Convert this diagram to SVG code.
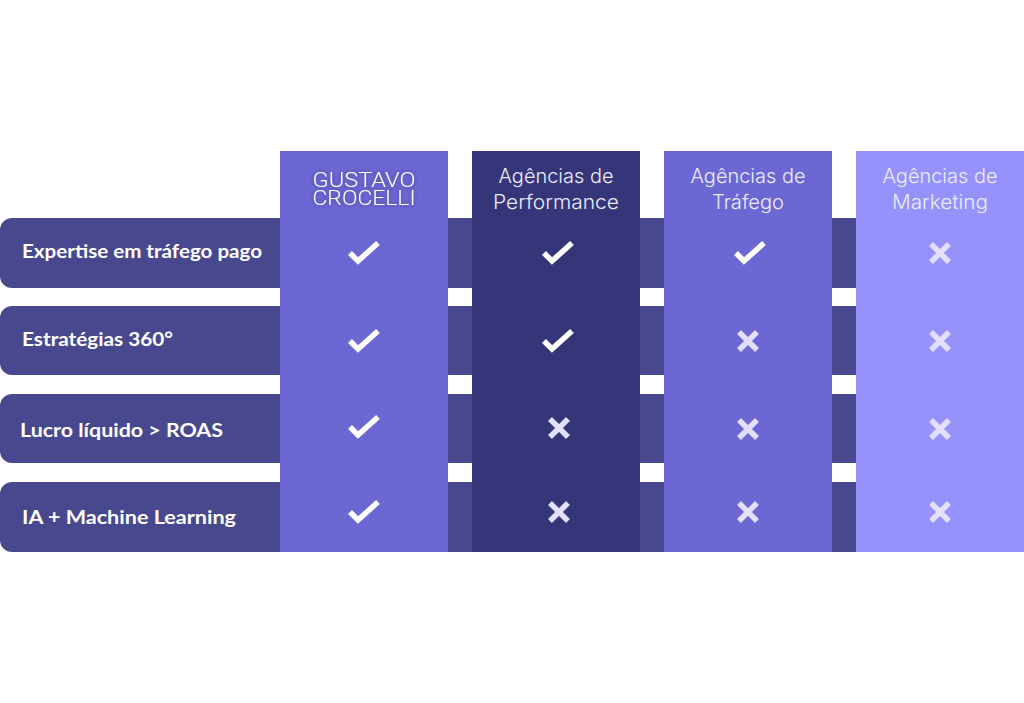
<svg xmlns="http://www.w3.org/2000/svg" xmlns:xlink="http://www.w3.org/1999/xlink" width="1024" height="703" viewBox="0 0 1024 703">
<defs>
<style>
.row{fill:#48488F}
.c1{fill:#6B68D3}
.c2{fill:#35357A}
.c4{fill:#9592FB}
.lbl{font-family:Lato,"Noto Sans","Liberation Sans",sans-serif;font-weight:700;font-size:19px;fill:#FFFFFF}
.hd{font-family:Inter,"Noto Sans","Liberation Sans",sans-serif;font-weight:300;font-size:20px;fill:#ECECF8;text-anchor:middle}
.gc{font-family:Roboto,"Noto Sans","Liberation Sans",sans-serif;font-weight:300;font-size:20px;fill:#FFFFFF;text-anchor:middle}
.ck{fill:none;stroke:#FFFFFF;stroke-width:5.5;stroke-linejoin:miter;stroke-linecap:butt}
.x{fill:none;stroke:#E2E0FA;stroke-width:5.5;stroke-linecap:butt}
</style>
<filter id="glow" x="-20%" y="-40%" width="140%" height="180%">
<feDropShadow dx="0" dy="0" stdDeviation="2" flood-color="#2A2870" flood-opacity="0.6"/>
</filter>
<path id="check" class="ck" d="M-14,1 L-6,9 L14,-9"/>
<path id="cross" class="x" d="M-9,-9 L9,9 M9,-9 L-9,9"/>
</defs>
<rect width="1024" height="703" fill="#FFFFFF"/>
<g id="rows">
<path id="row1" class="row" d="M12,218 H856 V288 H12 A12,12 0 0 1 0,276 V230 A12,12 0 0 1 12,218 Z"/>
<path id="row2" class="row" d="M12,306 H856 V375 H12 A12,12 0 0 1 0,363 V318 A12,12 0 0 1 12,306 Z"/>
<path id="row3" class="row" d="M12,394 H856 V463 H12 A12,12 0 0 1 0,451 V406 A12,12 0 0 1 12,394 Z"/>
<path id="row4" class="row" d="M12,482 H856 V552 H12 A12,12 0 0 1 0,540 V494 A12,12 0 0 1 12,482 Z"/>
</g>
<g id="col-gustavo">
<rect class="c1" x="280" y="151" width="168" height="401"/>
<g filter="url(#glow)">
<text class="gc" x="364" y="187" textLength="103" lengthAdjust="spacingAndGlyphs">GUSTAVO</text>
<text class="gc" x="364" y="204.5" textLength="103" lengthAdjust="spacingAndGlyphs">CROCELLI</text>
</g>
</g>
<g id="col-performance">
<rect class="c2" x="472" y="151" width="168" height="401"/>
<text class="hd" x="556" y="183" textLength="115" lengthAdjust="spacingAndGlyphs">Agências de</text>
<text class="hd" x="556" y="209" textLength="126" lengthAdjust="spacingAndGlyphs">Performance</text>
</g>
<g id="col-trafego">
<rect class="c1" x="664" y="151" width="168" height="401"/>
<text class="hd" x="748" y="183" textLength="115" lengthAdjust="spacingAndGlyphs">Agências de</text>
<text class="hd" x="748" y="209" textLength="72" lengthAdjust="spacingAndGlyphs">Tráfego</text>
</g>
<g id="col-marketing">
<rect class="c4" x="856" y="151" width="168" height="401"/>
<text class="hd" x="940" y="183" fill="#F2F2FF" textLength="115" lengthAdjust="spacingAndGlyphs">Agências de</text>
<text class="hd" x="940" y="209" fill="#F2F2FF" textLength="96" lengthAdjust="spacingAndGlyphs">Marketing</text>
</g>
<g id="labels">
<text class="lbl" x="22" y="258" textLength="240" lengthAdjust="spacingAndGlyphs">Expertise em tráfego pago</text>
<text class="lbl" x="22" y="346" textLength="151" lengthAdjust="spacingAndGlyphs">Estratégias 360°</text>
<text class="lbl" x="20" y="437" textLength="203" lengthAdjust="spacingAndGlyphs">Lucro líquido &gt; ROAS</text>
<text class="lbl" x="22" y="524" textLength="214" lengthAdjust="spacingAndGlyphs">IA + Machine Learning</text>
</g>
<g id="marks">
<use xlink:href="#check" x="364" y="252"/>
<use xlink:href="#check" x="558" y="252"/>
<use xlink:href="#check" x="750" y="252"/>
<use xlink:href="#cross" x="940" y="253"/>
<use xlink:href="#check" x="364" y="340"/>
<use xlink:href="#check" x="558" y="340"/>
<use xlink:href="#cross" x="748" y="341"/>
<use xlink:href="#cross" x="940" y="341"/>
<use xlink:href="#check" x="364" y="426"/>
<use xlink:href="#cross" x="559" y="428"/>
<use xlink:href="#cross" x="748" y="429"/>
<use xlink:href="#cross" x="940" y="429"/>
<use xlink:href="#check" x="364" y="511"/>
<use xlink:href="#cross" x="559" y="512"/>
<use xlink:href="#cross" x="748" y="512"/>
<use xlink:href="#cross" x="940" y="512"/>
</g>
</svg>
